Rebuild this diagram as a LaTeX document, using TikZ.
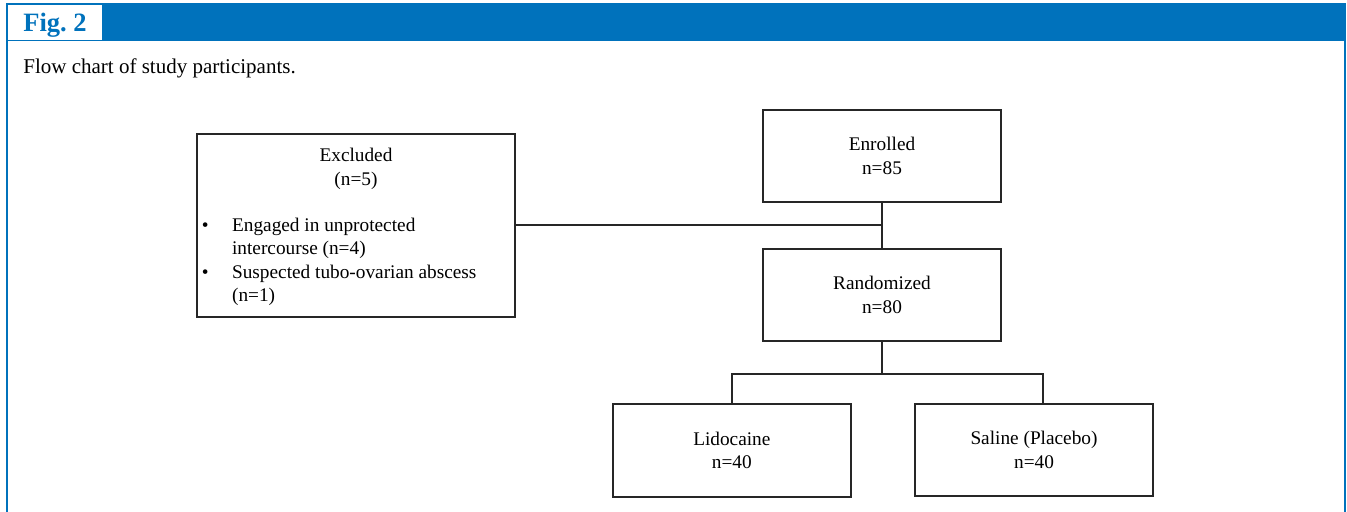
\documentclass[tikz,border=0pt]{standalone}
\usepackage{fontspec}
\setmainfont{Liberation Serif}
\frenchspacing
\definecolor{figblue}{RGB}{0,114,188}
\newcommand\boxfont{\fontsize{9.65pt}{11.65pt}\selectfont}
\tikzset{
  flowbox/.style={draw=black!85, line width=1pt, fill=white, minimum width=119pt,
    minimum height=46pt, align=center, inner sep=0pt, font=\boxfont},
  link/.style={draw=black!85, line width=1pt},
  plaintext/.style={inner sep=0pt, font=\boxfont},
}
\begin{document}
\begin{tikzpicture}[x=0.5pt,y=-0.5pt]
\useasboundingbox (0,0) rectangle (1347,512);
% frame and header
\fill[figblue] (6,3) rectangle (1346,41.5);
\fill[figblue] (6,3) rectangle (8,512);
\fill[figblue] (1343.5,3) rectangle (1346,512);
\fill[white] (8,5) rectangle (101.5,40);
\node[anchor=base west, inner sep=0pt, text=figblue,
  font=\fontsize{13.25pt}{15pt}\selectfont\bfseries] (fig) at (23,31.7) {Fig.\ 2};
\node[anchor=base west, inner sep=0pt,
  font=\fontsize{10.5pt}{12.6pt}\selectfont] (cap) at (23,73.3) {Flow chart of study participants.};
% boxes
\node[flowbox] (enr) at (882,156) {Enrolled\\n=85};
\node[flowbox] (ran) at (882,295) {Randomized\\n=80};
\node[flowbox, minimum width=119.15pt, minimum height=46.5pt] (lid) at (731.85,450.5) {Lidocaine\\n=40};
\node[flowbox] (sal) at (1034,450) {Saline (Placebo)\\n=40};
\node[flowbox, minimum width=159pt, minimum height=91.5pt] (exc) at (356,225.5) {};
\node[plaintext, align=center] (exctitle) at (356,168.8) {Excluded\\(n=5)};
\node[plaintext, anchor=north west] (exclist) at (201.5,214.7)
  {\begin{tabular}{@{}p{15.1pt}@{}l@{}}
   \textbullet & Engaged in unprotected\\
               & intercourse (n=4)\\
   \textbullet & Suspected tubo-ovarian abscess\\
               & (n=1)
   \end{tabular}};
% connectors
\draw[link] (enr.south) -- (ran.north);
\draw[link] (exc.east) -- (exc.east -| enr.south);
\draw[link] (ran.south) -- ++(0,32) coordinate (split);
\draw[link] (lid.north) |- (split) -| ([xshift=4.5pt]sal.north);
\end{tikzpicture}
\end{document}
